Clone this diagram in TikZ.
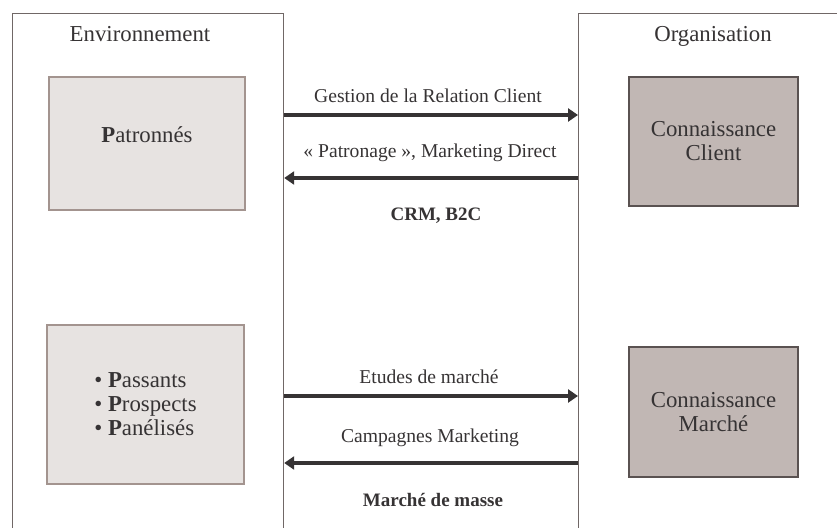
\documentclass[tikz,border=0pt]{standalone}
\usepackage{fontspec}
\setmainfont{Liberation Serif}
\usepackage{tikz}
\usetikzlibrary{positioning,arrows.meta}
\definecolor{ink}{HTML}{363334}
\definecolor{framec}{HTML}{706766}
\definecolor{lightfill}{HTML}{E7E3E1}
\definecolor{lightdraw}{HTML}{A3948F}
\definecolor{darkfill}{HTML}{C1B7B4}
\definecolor{darkdraw}{HTML}{5A5251}

\begin{document}
\begin{tikzpicture}[
  x=0.5pt, y=-0.5pt,
  every node/.style={font=\fontsize{11.4}{12}\selectfont, text=ink},
  frame/.style={draw=framec, line width=0.6pt, anchor=north west, inner sep=0pt},
  title/.style={anchor=base},
  envbox/.style={draw=lightdraw, fill=lightfill, line width=1pt, align=center},
  orgbox/.style={draw=darkdraw, fill=darkfill, line width=1pt, align=center,
    minimum width=84.5pt, minimum height=64.5pt},
  flowlabel/.style={font=\fontsize{9.8}{11}\selectfont},
  keylabel/.style={font=\fontsize{9.5}{11}\selectfont\bfseries},
  flow/.style={-{Triangle[length=5pt,width=6.5pt]}, line width=2pt, draw=ink},
]
  \useasboundingbox (0,0) rectangle (837,528);
  \clip (0,0) rectangle (837,528);

  % two frames, open at the bottom
  \node[frame, minimum width=135.5pt, minimum height=264pt] (env) at (12,13) {};
  \node[frame, minimum width=136pt, minimum height=264pt] (org) at (578,13) {};
  \node[title] (envtitle) at (140,42) {Environnement};
  \node[title] (orgtitle) at (713,42) {Organisation};

  % boxes
  \node[envbox, minimum width=98pt, minimum height=66.5pt] (pat) at (147,143.5) {\raisebox{9pt}{\textbf{P}atronnés}};
  \node[envbox, minimum width=98.5pt, minimum height=79.5pt, align=left] (pas) at (145.5,404.5)
    {\textbullet\ \textbf{P}assants\\ \textbullet\ \textbf{P}rospects\\ \textbullet\ \textbf{P}anélisés};
  \node[orgbox] (cc) at (713.5,141.5) {Connaissance\\Client};
  \node[orgbox, minimum height=65pt] (cm) at (713.5,412) {Connaissance\\Marché};

  % flows
  \coordinate (a1) at (430,115);
  \coordinate (a2) at (430,178);
  \coordinate (a3) at (430,396);
  \coordinate (a4) at (430,463);
  \draw[flow] (env.east |- a1) -- (org.west |- a1);
  \draw[flow] (org.west |- a2) -- (env.east |- a2);
  \draw[flow] (env.east |- a3) -- (org.west |- a3);
  \draw[flow] (org.west |- a4) -- (env.east |- a4);

  \node[flowlabel] (l1) at (428,96) {Gestion de la Relation Client};
  \node[flowlabel] (l2) at (430,153) {« Patronage », Marketing Direct};
  \node[keylabel] (k1) at (436,216) {CRM, B2C};
  \node[flowlabel] (l3) at (429,377) {Etudes de marché};
  \node[flowlabel] (l4) at (430,438) {Campagnes Marketing};
  \node[keylabel] (k2) at (433,500) {Marché de masse};
\end{tikzpicture}
\end{document}
